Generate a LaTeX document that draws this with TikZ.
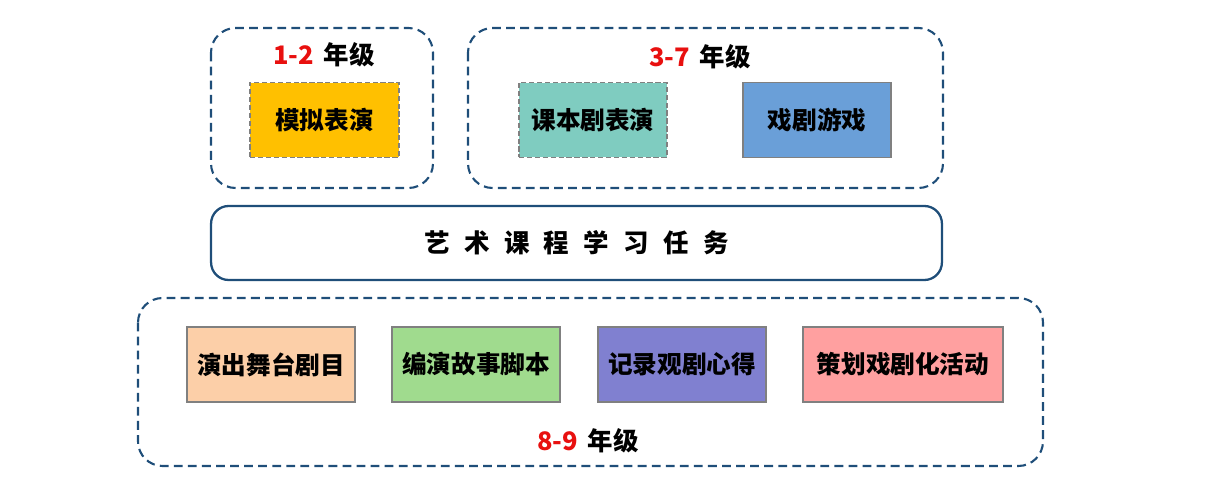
\documentclass[tikz,border=0pt]{standalone}
\usepackage{fontspec}
\newfontfamily\cjk{Noto Sans CJK SC}
\usetikzlibrary{positioning}
\definecolor{frameblue}{HTML}{1F4E79}
\definecolor{gradered}{HTML}{E8100F}
\tikzset{
  group/.style={draw=frameblue, dash pattern=on 5pt off 3pt, line width=1.2pt, rounded corners=14pt},
  task/.style={draw=gray, line width=1pt, minimum width=3.36cm, minimum height=1.5cm, font=\cjk\bfseries\fontsize{14}{16}\selectfont},
  grade/.style={font=\cjk\bfseries\fontsize{14.5}{17}\selectfont}
}
\begin{document}
\begin{tikzpicture}[x=0.02cm, y=-0.02cm]
  \useasboundingbox (0,0) rectangle (1205,500);
  % groups
  \draw[group] (211,28) rectangle (433,188);
  \draw[group] (468,28) rectangle (943,188);
  \draw[group] (138,298) rectangle (1043,466);
  \node[name=core, draw=frameblue, line width=1.3pt, rounded corners=10pt,
        minimum width=14.62cm, minimum height=1.48cm,
        font=\cjk\bfseries\fontsize{14.5}{17}\selectfont] at (576.5,243)
        {艺\,\, 术\,\, 课\,\, 程\,\, 学\,\, 习\,\, 任\,\, 务};
  % grades
  \node[grade, name=g12] at (324,55) {\textcolor{gradered}{1-2}\, 年级};
  \node[grade, name=g37] at (700,57) {\textcolor{gradered}{3-7}\, 年级};
  \node[grade, name=g89] at (588,441) {\textcolor{gradered}{8-9}\, 年级};
  % tasks
  \node[task, dash pattern=on 3pt off 1.5pt, fill={rgb,255:red,255;green,192;blue,0}, minimum width=2.98cm, name=mimic] at (324.5,120) {模拟表演};
  \node[task, dash pattern=on 3pt off 1.5pt, fill={rgb,255:red,127;green,204;blue,192}, minimum width=2.96cm, name=textplay] at (593,120) {课本剧表演};
  \node[task, fill={rgb,255:red,106;green,159;blue,216}, minimum width=2.96cm, name=game] at (817,120) {戏剧游戏};
  \node[task, fill={rgb,255:red,252;green,207;blue,168}, name=stage] at (271,364.5) {演出舞台剧目};
  \node[task, fill={rgb,255:red,160;green,219;blue,142}, name=script] at (476,364.5) {编演故事脚本};
  \node[task, fill={rgb,255:red,128;green,128;blue,208}, name=notes] at (682,364.5) {记录观剧心得};
  \node[task, fill={rgb,255:red,255;green,160;blue,160}, minimum width=4cm, name=plan] at (903,364.5) {策划戏剧化活动};
\end{tikzpicture}
\end{document}
